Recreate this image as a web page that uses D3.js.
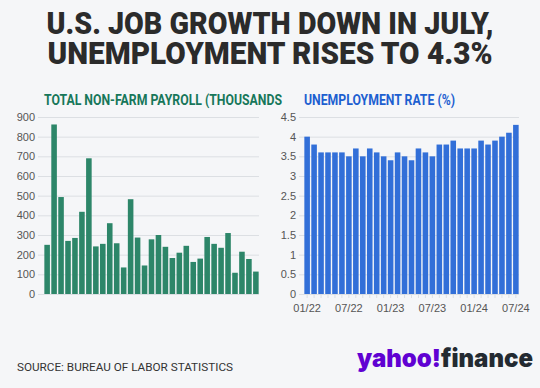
<!DOCTYPE html>
<html lang="en">
<head>
<meta charset="UTF-8">
<title>U.S. job growth</title>
<script src="https://d3js.org/d3.v7.min.js"></script>
<style>
  * { margin: 0; padding: 0; box-sizing: border-box; }
  body { background: #f5f6f8; font-family: Roboto, "Liberation Sans", Arial, sans-serif; }
  svg { display: block; }
</style>
</head>
<body>
<div id="chart"></div>
<script>
// Jan 2022 .. Jul 2024
const months = d3.range(31).map(i => {
  const m = i % 12 + 1, y = 22 + Math.floor(i / 12);
  return String(m).padStart(2, "0") + "/" + y;
});
const payroll = [250, 862, 493, 270, 285, 418, 690, 242, 255, 360, 258, 135, 482, 287, 145,
                 278, 300, 240, 183, 210, 245, 163, 180, 290, 255, 235, 310, 108, 215, 178, 114];
const unemployment = [4.0, 3.8, 3.6, 3.6, 3.6, 3.6, 3.5, 3.7, 3.5, 3.7, 3.6, 3.5, 3.4, 3.6, 3.5,
                      3.4, 3.7, 3.6, 3.5, 3.8, 3.8, 3.9, 3.7, 3.7, 3.7, 3.9, 3.8, 3.9, 4.0, 4.1, 4.3];
const payrollTicks = d3.range(0, 901, 100);
const rateTicks = d3.range(0, 4.51, 0.5);
const xLabels = ["01/22", "07/22", "01/23", "07/23", "01/24", "07/24"];

const W = 540, H = 388;
const svg = d3.select("#chart").append("svg").attr("width", W).attr("height", H);
svg.append("rect").attr("width", W).attr("height", H).attr("fill", "#f5f6f8");

// headline, one text block with two lines
const head = ["U.S. JOB GROWTH DOWN IN JULY,", "UNEMPLOYMENT RISES TO 4.3%"];
const headText = svg.append("text")
  .attr("text-anchor", "middle")
  .style("font-size", "31px").style("font-weight", "900")
  .style("fill", "#2b2b2b");
head.forEach((t, i) => {
  headText.append("tspan")
    .attr("x", 270).attr("y", 34 + i * 29.5)
    .attr("textLength", i === 0 ? 447 : 445)
    .attr("lengthAdjust", "spacingAndGlyphs")
    .text(t);
});

const plotTop = 117, plotBottom = 294;

function panel(opts) {
  const g = svg.append("g");
  const x = d3.scaleBand().domain(months).range([opts.x0, opts.x1]).paddingInner(0.2).paddingOuter(0.05);
  const y = d3.scaleLinear().domain([0, opts.max]).range([plotBottom, plotTop]);

  g.append("g")
    .attr("transform", `translate(${opts.gx},0)`)
    .call(d3.axisLeft(y).tickValues(opts.ticks).tickSize(-(opts.x1 - opts.gx)).tickFormat(opts.fmt).tickPadding(3))
    .call(a => a.select(".domain").remove())
    .call(a => a.selectAll("line").attr("stroke", "#dcdfe3"))
    .call(a => a.selectAll("text").style("font-size", "11px").style("fill", "#555").attr("font-family", null));

  g.selectAll(".bar").data(opts.values).join("rect")
    .attr("x", (d, i) => x(months[i]))
    .attr("y", d => y(d))
    .attr("width", x.bandwidth())
    .attr("height", d => plotBottom - y(d))
    .attr("fill", opts.color);

  const xa = g.append("g").attr("transform", `translate(0,${plotBottom})`)
    .call(d3.axisBottom(x).tickSizeOuter(0).tickSize(opts.labels ? 4 : 0)
      .tickFormat(d => opts.labels && xLabels.includes(d) ? d : ""));
  xa.select(".domain").attr("stroke", "#dcdfe3").attr("d", `M${opts.gx},0.5H${opts.x1}`);
  xa.selectAll("line").attr("stroke", "#dcdfe3");
  xa.selectAll("text").style("font-size", "11px").style("fill", "#555").attr("font-family", null).attr("dy", "1em");

  g.append("text")
    .attr("x", opts.x0).attr("y", 105)
    .attr("textLength", opts.titleLen).attr("lengthAdjust", "spacingAndGlyphs")
    .style("font-size", "14px").style("font-weight", "bold")
    .style("fill", opts.titleColor)
    .text(opts.title);
}

panel({
  x0: 44, x1: 259, gx: 38, max: 900, ticks: payrollTicks, fmt: d3.format("d"),
  values: payroll, color: "#2d8669", labels: false,
  title: "TOTAL NON-FARM PAYROLL (THOUSANDS", titleLen: 238, titleColor: "#17775a"
});

panel({
  x0: 304, x1: 519, gx: 299, max: 4.5, ticks: rateTicks, fmt: d => String(d),
  values: unemployment, color: "#326fd8", labels: true,
  title: "UNEMPLOYMENT RATE (%)", titleLen: 151, titleColor: "#1d5fd0"
});

// footer
svg.append("text")
  .attr("x", 17).attr("y", 371)
  .style("font-size", "11px").style("fill", "#333")
  .attr("textLength", 216).attr("lengthAdjust", "spacingAndGlyphs")
  .text("SOURCE: BUREAU OF LABOR STATISTICS");

const logo = svg.append("text").attr("x", 357).attr("y", 367)
  .style("font-size", "25px").style("font-weight", "900").style("font-family", "Inter, Roboto, sans-serif")
  .attr("textLength", 176).attr("lengthAdjust", "spacingAndGlyphs");
logo.append("tspan").style("fill", "#6001d2").text("yahoo!");
logo.append("tspan").style("fill", "#232a31").text("finance");
</script>
</body>
</html>
